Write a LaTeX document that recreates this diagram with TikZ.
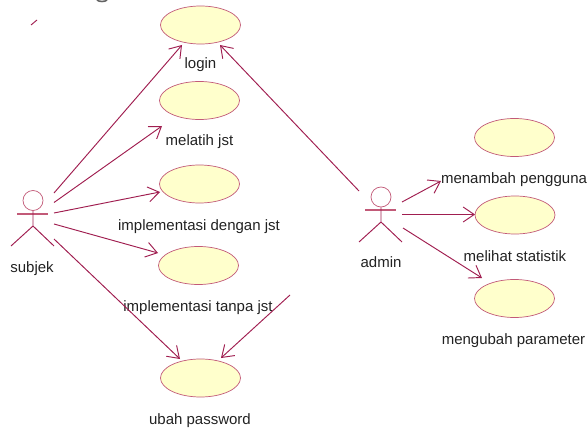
\documentclass[tikz,border=0pt]{standalone}
\usepackage{fontspec}
\setmainfont{Liberation Sans}
\usetikzlibrary{arrows.meta,shapes.geometric}
\definecolor{linec}{HTML}{A01E50}
\definecolor{edgec}{HTML}{C25A78}
\definecolor{fillc}{HTML}{FFFFCC}
\definecolor{textc}{HTML}{222222}
\tikzset{
  usecase/.style={ellipse,draw=edgec,fill=fillc,line width=0.7pt,minimum width=80pt,minimum height=38pt,inner sep=0pt},
  lbl/.style={text=textc,font=\fontsize{15}{17}\selectfont,inner sep=0pt,anchor=base},
  assoc/.style={draw=linec,line width=0.95pt,-{Straight Barb[length=11pt,width=15pt,line width=0.95pt]}},
  limb/.style={draw=linec,line width=0.95pt},
  armline/.style={draw=edgec,line width=1.2pt},
  headc/.style={circle,draw=edgec,line width=0.7pt,minimum size=20pt,inner sep=0pt}
}
\begin{document}
\begin{tikzpicture}[x=1pt,y=-1pt]
\useasboundingbox (0,0) rectangle (587,428);
% use cases
\node[usecase] (login) at (200.5,25) {};
\node[usecase] (melatih) at (199.5,100.5) {};
\node[usecase] (dengan) at (199.5,184) {};
\node[usecase] (tanpa) at (198.5,265.5) {};
\node[usecase] (ubah) at (200.5,378) {};
\node[usecase] (menambah) at (514.5,137.5) {};
\node[usecase] (melihat) at (515,215) {};
\node[usecase] (mengubah) at (514.5,298.5) {};
% labels
\node[lbl] (tlogin) at (200.5,69) {login};
\node[lbl] (tmelatih) at (199.5,146) {melatih jst};
\node[lbl] (tdengan) at (199,230) {implementasi dengan jst};
\node[lbl] (ttanpa) at (198,311) {implementasi tanpa jst};
\node[lbl] (tubah) at (200,424) {ubah password};
\node[lbl] (tsubjek) at (32,272) {subjek};
\node[lbl] (tadmin) at (381,267) {admin};
\node[lbl] (tmenambah) at (514,183) {menambah pengguna};
\node[lbl] (tmelihat) at (515,261) {melihat statistik};
\node[lbl] (tmengubah) at (513.5,344) {mengubah parameter};
% actors
\node[headc] (subjek) at (33,200.5) {};
\draw[armline] (17,214) -- (48,214);
\draw[limb] (subjek.south) -- (33,226) -- (11,246) (33,226) -- (54,246);
\node[headc] (admin) at (381,197) {};
\draw[armline] (365,210) -- (396,210);
\draw[limb] (admin.south) -- (381,222) -- (359,242) (381,222) -- (402,242);
% connector ends
\coordinate (s1) at (54,193); \coordinate (s2) at (54,202.5); \coordinate (s3) at (54,213);
\coordinate (s4) at (54,224); \coordinate (s5) at (54,239);
\coordinate (a0) at (359,191); \coordinate (a1) at (402,202); \coordinate (a2) at (402,214.5); \coordinate (a3) at (403,228);
\coordinate (free) at (290,295);
\coordinate (e1) at (182,45); \coordinate (e2) at (162,126); \coordinate (e3) at (160,192);
\coordinate (e4) at (158,253); \coordinate (e5) at (180,359); \coordinate (e6) at (220,45);
\coordinate (e7) at (221,358); \coordinate (e8) at (441,181); \coordinate (e9) at (475,214.5);
\coordinate (e10) at (482,278);
\draw[assoc] (s1) -- (e1);
\draw[assoc] (s2) -- (e2);
\draw[assoc] (s3) -- (e3);
\draw[assoc] (s4) -- (e4);
\draw[assoc] (s5) -- (e5);
\draw[assoc] (a0) -- (e6);
\draw[assoc] (free) -- (e7);
\draw[assoc] (a1) -- (e8);
\draw[assoc] (a2) -- (e9);
\draw[assoc] (a3) -- (e10);
% stray tick and clipped fragment at the top edge
\coordinate (t1) at (31,25); \coordinate (t2) at (37,20);
\draw[limb] (t1) -- (t2);
\coordinate (g1) at (97,0); \coordinate (g2) at (107,0);
\draw[draw=textc!70,line width=1.6pt] (g1) .. controls (99,2) and (105,2) .. (g2);
\end{tikzpicture}
\end{document}
